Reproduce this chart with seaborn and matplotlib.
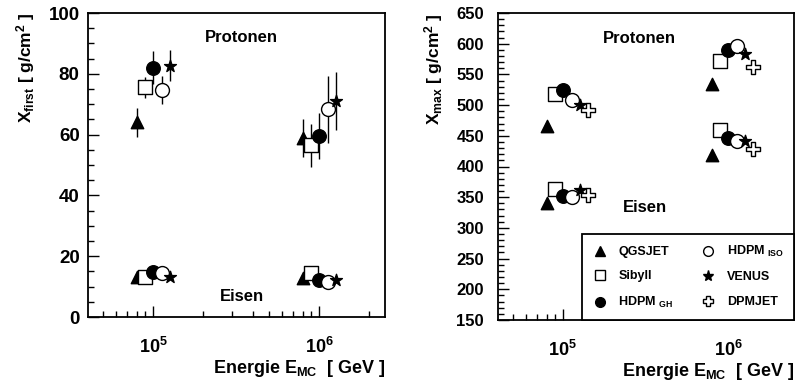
import numpy as np
import pandas as pd
import matplotlib
matplotlib.use("Agg")
import matplotlib.pyplot as plt
from matplotlib.lines import Line2D
from matplotlib.ticker import MultipleLocator, LogLocator, NullFormatter
import seaborn as sns

sns.set_style("white")
plt.rcParams["font.family"] = ["Liberation Sans", "DejaVu Sans"]
plt.rcParams["font.weight"] = "bold"
plt.rcParams["mathtext.fontset"] = "custom"
plt.rcParams["mathtext.rm"] = "Liberation Sans"
plt.rcParams["mathtext.bf"] = "Liberation Sans:bold"
plt.rcParams["mathtext.it"] = "Liberation Sans:bold"
plt.rcParams["mathtext.default"] = "bf"
for k in ["text.color", "axes.labelcolor", "xtick.color", "ytick.color", "axes.edgecolor"]:
    plt.rcParams[k] = "black"

# ---------------- data ----------------
models = ["QGSJET", "Sibyll", "HDPM_GH", "HDPM_ISO", "VENUS", "DPMJET"]
legend_labels = ["QGSJET", "Sibyll", r"HDPM $_{GH}$", r"HDPM $_{ISO}$", "VENUS", "DPMJET"]

# plotted energies (slightly shifted per model for visibility)
e_low = [8.0e4, 9.0e4, 1.0e5, 1.13e5, 1.27e5, 1.43e5]
e_high = [8.0e5, 8.95e5, 1.0e6, 1.13e6, 1.26e6, 1.42e6]

# X_first (first five models)
xfirst_p_low = [64.0, 75.5, 82.0, 74.7, 82.7]
xfirst_p_low_err = [4.7, 3.5, 5.4, 4.5, 5.1]
xfirst_p_high = [58.8, 56.5, 59.6, 68.3, 71.1]
xfirst_p_high_err = [6.2, 7.1, 7.5, 11.1, 9.6]
xfirst_fe_low = [13.0, 13.0, 14.8, 14.6, 13.2]
xfirst_fe_high = [12.9, 14.5, 12.1, 11.4, 12.3]

# X_max (six models)
xmax_p_low = [466, 518, 525, 508, 500, 492]
xmax_p_high = [534, 572, 590, 597, 583, 562]
xmax_fe_low = [340, 364, 352, 350, 361, 354]
xmax_fe_high = [418, 460, 447, 442, 442, 428]

# marker styles
markers = ["^", "s", "o", "o", "*", "P"]
faces = ["black", "white", "black", "white", "black", "white"]
sizes = [80, 95, 95, 100, 80, 110]

fig = plt.figure(figsize=(7.95, 3.85), dpi=100)
axL = fig.add_axes([88 / 795, 1 - 317 / 385, 297 / 795, 304 / 385])
axR = fig.add_axes([498 / 795, 1 - 320 / 385, 296 / 795, 307 / 385])


def draw(ax, e, vals, n):
    for i in range(n):
        df = pd.DataFrame({"E": [e[i]], "v": [vals[i]]})
        sns.scatterplot(data=df, x="E", y="v", marker=markers[i], s=sizes[i],
                        color=faces[i], edgecolor="black", linewidth=1.0,
                        ax=ax, zorder=4, legend=False)


# left panel: error bars on protons
for e, v, err in [(e_low, xfirst_p_low, xfirst_p_low_err),
                  (e_high, xfirst_p_high, xfirst_p_high_err)]:
    axL.errorbar(e[:5], v, yerr=err, fmt="none", ecolor="black",
                 elinewidth=1.0, capsize=0, zorder=3)
draw(axL, e_low, xfirst_p_low, 5)
draw(axL, e_high, xfirst_p_high, 5)
draw(axL, e_low, xfirst_fe_low, 5)
draw(axL, e_high, xfirst_fe_high, 5)

draw(axR, e_low, xmax_p_low, 6)
draw(axR, e_high, xmax_p_high, 6)
draw(axR, e_low, xmax_fe_low, 6)
draw(axR, e_high, xmax_fe_high, 6)

for ax, ylim, major, minor, ysz, ypad in [(axL, (0, 100), 20, 5, 13.5, 6),
                                          (axR, (150, 650), 50, 10, 12, 10)]:
    ax.set_xscale("log")
    ax.set_xlim(4.06e4, 2.5e6)
    ax.set_ylim(*ylim)
    ax.yaxis.set_major_locator(MultipleLocator(major))
    ax.yaxis.set_minor_locator(MultipleLocator(minor))
    ax.set_xticks([1e5, 1e6])
    ax.set_xticklabels([r"$10^{5}$", r"$10^{6}$"])
    ax.xaxis.set_minor_locator(LogLocator(base=10, subs=np.arange(2, 10)))
    ax.xaxis.set_minor_formatter(NullFormatter())
    ax.tick_params(axis="both", which="major", direction="in", length=8,
                   width=1.0, color="black", labelcolor="black", left=True, bottom=True)
    ax.tick_params(axis="both", which="minor", direction="in", length=4,
                   width=1.0, color="black", left=True, bottom=True)
    ax.tick_params(axis="x", which="major", pad=14, labelsize=13)
    ax.tick_params(axis="y", which="major", pad=ypad, labelsize=ysz)
    for sp in ax.spines.values():
        sp.set_linewidth(1.3)
        sp.set_color("black")
    ax.set_xlabel(r"Energie E$_{MC}$  $\mathrm{[}$ GeV $\mathrm{]}$", loc="right",
                  fontsize=13, fontweight="bold", labelpad=1, color="black")
    for lab in ax.get_yticklabels():
        lab.set_fontweight("bold")

axL.set_ylabel(r"X$_{first}$ $\mathrm{[}$ g/cm$^2$ $\mathrm{]}$", loc="top",
               fontsize=12.5, fontweight="bold", labelpad=8, color="black")
axR.set_ylabel(r"X$_{max}$ $\mathrm{[}$ g/cm$^2$ $\mathrm{]}$", loc="top",
               fontsize=12.5, fontweight="bold", labelpad=8, color="black")

axL.text(3.4e5, 92, "Protonen", ha="center", va="center", fontsize=12, fontweight="bold", color="black")
axL.text(3.45e5, 6.6, "Eisen", ha="center", va="center", fontsize=12, fontweight="bold", color="black")
axR.text(2.9e5, 609, "Protonen", ha="center", va="center", fontsize=12, fontweight="bold", color="black")
axR.text(3.15e5, 334, "Eisen", ha="center", va="center", fontsize=12, fontweight="bold", color="black")

handles = [Line2D([], [], linestyle="none", marker=markers[i], markersize=7 if markers[i] != "*" else 8,
                  markerfacecolor=faces[i], markeredgecolor="black", markeredgewidth=1.0)
           for i in range(6)]
leg = axR.legend(handles, legend_labels, ncol=2, loc="lower right",
                 frameon=True, fancybox=False, edgecolor="black", framealpha=1,
                 borderaxespad=0, prop={"weight": "bold", "size": 9},
                 handletextpad=0.9, columnspacing=2.2, labelspacing=1.0,
                 borderpad=0.8, handlelength=1.2, labelcolor="black")
leg.get_frame().set_linewidth(1.3)

fig.savefig("out.png", dpi=100)
